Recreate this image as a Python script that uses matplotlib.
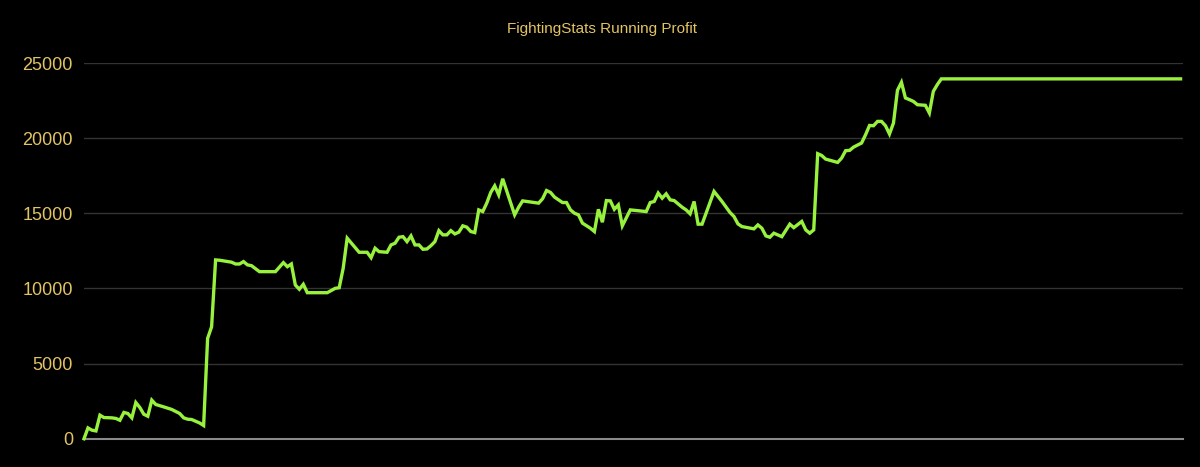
#!/usr/bin/env python3
# -*- coding: utf-8 -*-

import matplotlib as mpl
mpl.use("Agg")  # silent mode
from matplotlib import pyplot as plt

plt.rcParams["font.family"] = ["Liberation Sans", "DejaVu Sans"]

# - running profit after each bet (vertices)
bet_no = [
    0, 1, 2, 3, 4, 5, 7, 8, 9, 10, 11, 12, 13, 14, 15, 16, 17, 18, 20, 22,
    24, 25, 26, 27, 29, 30, 31, 32, 33, 34, 36, 37, 38, 39, 40, 41, 42, 44, 48, 50,
    51, 52, 53, 54, 55, 56, 61, 63, 64, 65, 66, 69, 71, 72, 73, 74, 76, 77, 78, 79,
    80, 81, 82, 83, 84, 85, 86, 87, 88, 89, 90, 91, 92, 93, 94, 95, 96, 97, 98, 99,
    100, 101, 102, 103, 104, 105, 108, 109, 110, 114, 115, 116, 117, 118, 120, 121, 122, 123, 124, 125,
    127, 128, 129, 130, 131, 132, 133, 134, 135, 137, 141, 142, 143, 144, 145, 146, 147, 148, 150, 151,
    152, 153, 154, 155, 158, 159, 160, 162, 163, 164, 165, 168, 169, 170, 171, 172, 173, 175, 177, 178,
    180, 181, 182, 183, 184, 185, 186, 189, 190, 191, 192, 193, 195, 196, 197, 198, 199, 200, 201, 202,
    203, 204, 205, 206, 207, 208, 209, 211, 212, 213, 214, 215, 275,
]
profit = [
    0, 720, 570, 520, 1570, 1410, 1390, 1350, 1230, 1750, 1680, 1390, 2410, 2080, 1630, 1500, 2570, 2280, 2120, 1950,
    1680, 1390, 1300, 1280, 1050, 880, 6680, 7450, 11900, 11880, 11790, 11750, 11630, 11630, 11790, 11570, 11520, 11120, 11120, 11720,
    11450, 11630, 10230, 9950, 10280, 9720, 9720, 10010, 10050, 11350, 13350, 12410, 12410, 12050, 12680, 12450, 12410, 12900, 13010, 13410,
    13450, 13120, 13500, 12900, 12900, 12610, 12630, 12850, 13120, 13850, 13570, 13570, 13850, 13630, 13750, 14170, 14080, 13790, 13720, 15230,
    15120, 15680, 16390, 16830, 16230, 17300, 14900, 15410, 15830, 15680, 15970, 16520, 16390, 16080, 15720, 15720, 15230, 15010, 14900, 14350,
    14010, 13790, 15270, 14410, 15850, 15830, 15270, 15560, 14170, 15230, 15120, 15720, 15790, 16350, 16010, 16300, 15900, 15850, 15410, 15230,
    14970, 15790, 14280, 14280, 16460, 16120, 15790, 15060, 14790, 14300, 14120, 13970, 14230, 14010, 13500, 13410, 13680, 13450, 14280, 14050,
    14460, 13900, 13680, 13900, 18970, 18850, 18610, 18390, 18680, 19170, 19190, 19410, 19680, 20230, 20850, 20830, 21120, 21120, 20830, 20280,
    21010, 23190, 23720, 22680, 22570, 22450, 22230, 22190, 21680, 23120, 23570, 23950, 23950,
]
y_ticks = [0, 5000, 10000, 15000, 20000, 25000]

GOLD = "#e3c463"
GREEN = "#98f23d"

fig = plt.figure(figsize=(12, 4.67), dpi=100, facecolor="black")
ax = fig.add_axes([0.0700, 0.0605, 0.9158, 0.8044])
ax.set_facecolor("black")

ax.plot(bet_no, profit, color=GREEN, lw=2.4, solid_joinstyle="miter", clip_on=False, zorder=3)

ax.set_xlim(0, 275.6)
ax.set_ylim(0, 25000)
ax.set_yticks(y_ticks)
ax.set_yticklabels([str(v) for v in y_ticks])
ax.set_xticks([])
ax.tick_params(axis="y", length=0, pad=8, labelsize=13, labelcolor=GOLD)

# -- grid
ax.grid(axis="y", color="#333333", lw=1.0)
for sp in ["top", "right", "left"]:
    ax.spines[sp].set_visible(False)
ax.spines["bottom"].set_color("#8a8a8a")
ax.spines["bottom"].set_linewidth(1.5)

fig.text(0.502, 0.938, "FightingStats Running Profit", ha="center", va="center",
         color=GOLD, fontsize=11)

plt.savefig("out.png", facecolor="black")
plt.close()
